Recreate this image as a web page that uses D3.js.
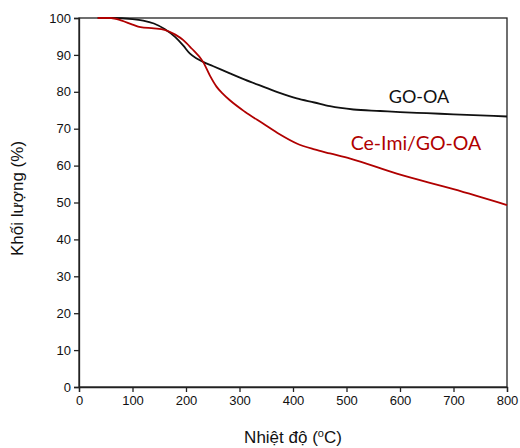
<!DOCTYPE html>
<html>
<head>
<meta charset="utf-8">
<script src="https://cdn.jsdelivr.net/npm/d3@7"></script>
<style>
  body { margin: 0; background: #fff; }
  svg text { font-family: Arial, "Liberation Sans", sans-serif; }
</style>
</head>
<body>
<svg></svg>
<script>
// temperature (°C) and mass (%)
var goTemp = [35, 60, 100, 120, 140, 160, 180, 195, 207, 220, 232, 250, 282, 310, 344, 375, 407, 440, 469, 513, 563, 600, 650, 700, 750, 800];
var goMass = [100, 100, 99.7, 99.3, 98.5, 97, 94.8, 92.5, 90.4, 89, 88.1, 87, 85, 83.3, 81.4, 79.7, 78.2, 77.1, 76.1, 75.2, 74.8, 74.5, 74.2, 73.9, 73.6, 73.3];

var ceTemp = [35, 60, 80, 100, 115, 140, 160, 180, 195, 210, 232, 245, 257, 270, 282, 310, 344, 375, 407, 440, 469, 507, 594, 700, 800];
var ceMass = [100, 100, 99.3, 98.2, 97.5, 97.2, 96.8, 95.5, 94, 91.8, 88.1, 84.3, 81.4, 79.3, 77.7, 74.6, 71.4, 68.5, 66, 64.4, 63.3, 61.9, 57.8, 53.6, 49.3];

var xTicks = [0, 100, 200, 300, 400, 500, 600, 700, 800];
var yTicks = [0, 10, 20, 30, 40, 50, 60, 70, 80, 90, 100];

var width = 520, height = 448,
  margin = { top: 18, right: 13, bottom: 61, left: 79 };

var svg = d3.select("svg").attr("width", width).attr("height", height);

var x = d3.scaleLinear().domain([0, 800]).range([margin.left, width - margin.right]);
var y = d3.scaleLinear().domain([0, 100]).range([height - margin.bottom, margin.top]);

// frame
svg.append("rect")
  .attr("x", x(0)).attr("y", y(100))
  .attr("width", x(800) - x(0)).attr("height", y(0) - y(100))
  .attr("fill", "none").attr("stroke", "#222").attr("stroke-width", 1.3);

var xAxis = svg.append("g")
  .attr("transform", "translate(0," + y(0) + ")")
  .call(d3.axisBottom(x).tickValues(xTicks).tickSize(5).tickPadding(4).tickFormat(d3.format("d")));

var yAxis = svg.append("g")
  .attr("transform", "translate(" + x(0) + ",0)")
  .call(d3.axisLeft(y).tickValues(yTicks).tickSize(5).tickPadding(3).tickFormat(d3.format("d")));

[xAxis, yAxis].forEach(function(a) {
  a.select(".domain").attr("stroke", "#222").attr("stroke-width", 1.3);
  a.selectAll(".tick line").attr("stroke", "#222").attr("stroke-width", 1.3);
  a.selectAll(".tick text").attr("fill", "#111").style("font-size", "13px");
});

var line = d3.line()
  .x(function(d) { return x(d[0]); })
  .y(function(d) { return y(d[1]); })
  .curve(d3.curveMonotoneX);

svg.append("path")
  .datum(d3.zip(goTemp, goMass))
  .attr("fill", "none").attr("stroke", "#111").attr("stroke-width", 1.8)
  .attr("d", line);

svg.append("path")
  .datum(d3.zip(ceTemp, ceMass))
  .attr("fill", "none").attr("stroke", "#b00000").attr("stroke-width", 1.8)
  .attr("d", line);

// series labels
svg.append("text")
  .attr("x", 419).attr("y", 103)
  .attr("text-anchor", "middle")
  .style("font-family", "Lato, 'Open Sans', sans-serif")
  .style("font-size", "18px").attr("fill", "#111")
  .text("GO-OA");

svg.append("text")
  .attr("x", 416).attr("y", 150)
  .attr("text-anchor", "middle")
  .style("font-family", "Lato, 'Open Sans', sans-serif")
  .style("font-size", "19.5px").attr("fill", "#b00000")
  .text("Ce-Imi/GO-OA");

// axis titles
var xt = svg.append("text")
  .attr("x", (x(0) + x(800)) / 2).attr("y", 443)
  .attr("text-anchor", "middle")
  .style("font-size", "17px").attr("fill", "#111");
xt.append("tspan").text("Nhiệt độ (");
xt.append("tspan").attr("dy", -6).style("font-size", "11px").text("o");
xt.append("tspan").attr("dy", 6).text("C)");

svg.append("text")
  .attr("transform", "translate(23," + (y(50) - 4) + ") rotate(-90)")
  .attr("text-anchor", "middle")
  .style("font-size", "17px").attr("fill", "#111")
  .text("Khối lượng (%)");
</script>
</body>
</html>
